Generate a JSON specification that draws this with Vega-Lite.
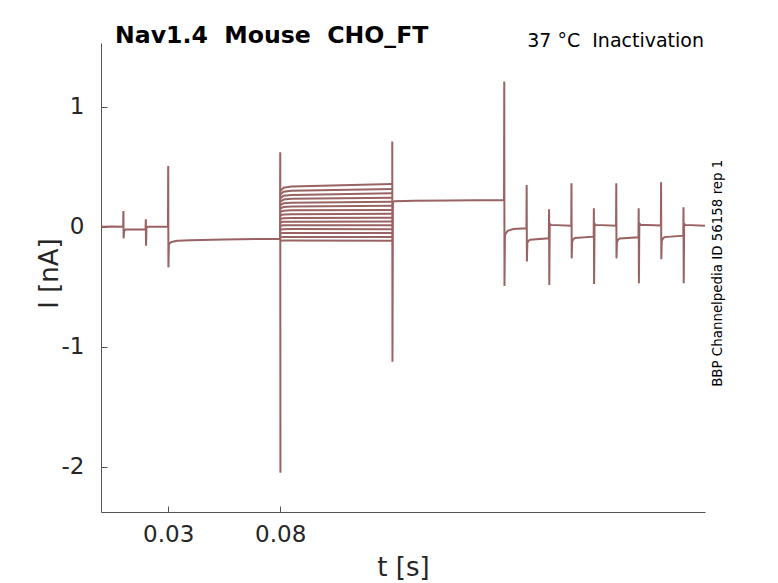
{
  "$schema": "https://vega.github.io/schema/vega-lite/v6.json",
  "width": 604,
  "height": 469,
  "autosize": {"type": "none"},
  "padding": {"left": 101, "top": 43, "right": 73, "bottom": 71},
  "background": "white",
  "config": {
    "font": "DejaVu Sans",
    "view": {"stroke": null},
    "axis": {
      "grid": false,
      "domainColor": "#555555",
      "tickColor": "#555555",
      "labelColor": "#262626",
      "titleColor": "#262626",
      "titleFontWeight": "normal",
      "labelFontSize": 23,
      "titleFontSize": 26,
      "tickSize": -6
    }
  },
  "layer": [
    {
      "data": {
        "values": [
          {"sweep": "a", "t": 0, "I": 0.0},
          {"sweep": "a", "t": 0.005, "I": 0.002},
          {"sweep": "a", "t": 0.0099, "I": 0.0},
          {"sweep": "a", "t": 0.01, "I": 0.131},
          {"sweep": "a", "t": 0.0101, "I": -0.097},
          {"sweep": "a", "t": 0.0103, "I": -0.032},
          {"sweep": "a", "t": 0.011, "I": -0.024},
          {"sweep": "a", "t": 0.0199, "I": -0.022},
          {"sweep": "a", "t": 0.02, "I": 0.061},
          {"sweep": "a", "t": 0.0201, "I": -0.158},
          {"sweep": "a", "t": 0.0203, "I": -0.006},
          {"sweep": "a", "t": 0.021, "I": 0.0},
          {"sweep": "a", "t": 0.0299, "I": 0.001},
          {"sweep": "a", "t": 0.03, "I": 0.506},
          {"sweep": "a", "t": 0.0301, "I": -0.339},
          {"sweep": "a", "t": 0.0303, "I": -0.15},
          {"sweep": "a", "t": 0.0307, "I": -0.137},
          {"sweep": "a", "t": 0.0315, "I": -0.127},
          {"sweep": "a", "t": 0.034, "I": -0.117},
          {"sweep": "a", "t": 0.04, "I": -0.112},
          {"sweep": "a", "t": 0.055, "I": -0.106},
          {"sweep": "a", "t": 0.07, "I": -0.102},
          {"sweep": "a", "t": 0.0799, "I": -0.1},
          {"sweep": "a", "t": 0.08, "I": 0.62},
          {"sweep": "a", "t": 0.0801, "I": -2.05},
          {"sweep": "f01", "t": 0.08015, "I": 0.3},
          {"sweep": "f01", "t": 0.0815, "I": 0.325},
          {"sweep": "f01", "t": 0.085, "I": 0.335},
          {"sweep": "f01", "t": 0.1299, "I": 0.355},
          {"sweep": "f02", "t": 0.08015, "I": 0.27},
          {"sweep": "f02", "t": 0.0815, "I": 0.292},
          {"sweep": "f02", "t": 0.085, "I": 0.3},
          {"sweep": "f02", "t": 0.1299, "I": 0.315},
          {"sweep": "f03", "t": 0.08015, "I": 0.24},
          {"sweep": "f03", "t": 0.0815, "I": 0.258},
          {"sweep": "f03", "t": 0.085, "I": 0.265},
          {"sweep": "f03", "t": 0.1299, "I": 0.278},
          {"sweep": "f04", "t": 0.08015, "I": 0.21},
          {"sweep": "f04", "t": 0.0815, "I": 0.226},
          {"sweep": "f04", "t": 0.085, "I": 0.232},
          {"sweep": "f04", "t": 0.1299, "I": 0.242},
          {"sweep": "f05", "t": 0.08015, "I": 0.182},
          {"sweep": "f05", "t": 0.0815, "I": 0.195},
          {"sweep": "f05", "t": 0.085, "I": 0.2},
          {"sweep": "f05", "t": 0.1299, "I": 0.207},
          {"sweep": "f06", "t": 0.08015, "I": 0.152},
          {"sweep": "f06", "t": 0.0815, "I": 0.164},
          {"sweep": "f06", "t": 0.085, "I": 0.168},
          {"sweep": "f06", "t": 0.1299, "I": 0.174},
          {"sweep": "f07", "t": 0.08015, "I": 0.124},
          {"sweep": "f07", "t": 0.0815, "I": 0.133},
          {"sweep": "f07", "t": 0.085, "I": 0.136},
          {"sweep": "f07", "t": 0.1299, "I": 0.14},
          {"sweep": "f08", "t": 0.08015, "I": 0.095},
          {"sweep": "f08", "t": 0.0815, "I": 0.102},
          {"sweep": "f08", "t": 0.085, "I": 0.104},
          {"sweep": "f08", "t": 0.1299, "I": 0.107},
          {"sweep": "f09", "t": 0.08015, "I": 0.066},
          {"sweep": "f09", "t": 0.0815, "I": 0.071},
          {"sweep": "f09", "t": 0.085, "I": 0.073},
          {"sweep": "f09", "t": 0.1299, "I": 0.075},
          {"sweep": "f10", "t": 0.08015, "I": 0.037},
          {"sweep": "f10", "t": 0.0815, "I": 0.041},
          {"sweep": "f10", "t": 0.085, "I": 0.042},
          {"sweep": "f10", "t": 0.1299, "I": 0.043},
          {"sweep": "f11", "t": 0.08015, "I": 0.008},
          {"sweep": "f11", "t": 0.0815, "I": 0.011},
          {"sweep": "f11", "t": 0.085, "I": 0.012},
          {"sweep": "f11", "t": 0.1299, "I": 0.012},
          {"sweep": "f12", "t": 0.08015, "I": -0.024},
          {"sweep": "f12", "t": 0.0815, "I": -0.021},
          {"sweep": "f12", "t": 0.085, "I": -0.02},
          {"sweep": "f12", "t": 0.1299, "I": -0.021},
          {"sweep": "f13", "t": 0.08015, "I": -0.055},
          {"sweep": "f13", "t": 0.0815, "I": -0.053},
          {"sweep": "f13", "t": 0.085, "I": -0.052},
          {"sweep": "f13", "t": 0.1299, "I": -0.053},
          {"sweep": "f14", "t": 0.08015, "I": -0.088},
          {"sweep": "f14", "t": 0.0815, "I": -0.086},
          {"sweep": "f14", "t": 0.085, "I": -0.085},
          {"sweep": "f14", "t": 0.1299, "I": -0.086},
          {"sweep": "f15", "t": 0.08015, "I": -0.118},
          {"sweep": "f15", "t": 0.0815, "I": -0.116},
          {"sweep": "f15", "t": 0.085, "I": -0.115},
          {"sweep": "f15", "t": 0.1299, "I": -0.117},
          {"sweep": "b", "t": 0.13, "I": 0.71},
          {"sweep": "b", "t": 0.1301, "I": -1.125},
          {"sweep": "b", "t": 0.1303, "I": 0.205},
          {"sweep": "b", "t": 0.131, "I": 0.213},
          {"sweep": "b", "t": 0.14, "I": 0.217},
          {"sweep": "b", "t": 0.155, "I": 0.219},
          {"sweep": "b", "t": 0.1799, "I": 0.222},
          {"sweep": "b", "t": 0.18, "I": 1.21},
          {"sweep": "b", "t": 0.1801, "I": -0.494},
          {"sweep": "b", "t": 0.1803, "I": -0.075},
          {"sweep": "b", "t": 0.1807, "I": -0.055},
          {"sweep": "b", "t": 0.1815, "I": -0.035},
          {"sweep": "b", "t": 0.184, "I": -0.02},
          {"sweep": "b", "t": 0.1899, "I": -0.014},
          {"sweep": "b", "t": 0.19, "I": 0.347},
          {"sweep": "b", "t": 0.1901, "I": -0.29},
          {"sweep": "b", "t": 0.1903, "I": -0.135},
          {"sweep": "b", "t": 0.1908, "I": -0.118},
          {"sweep": "b", "t": 0.1915, "I": -0.108},
          {"sweep": "b", "t": 0.1999, "I": -0.097},
          {"sweep": "b", "t": 0.2, "I": 0.145},
          {"sweep": "b", "t": 0.2001, "I": -0.486},
          {"sweep": "b", "t": 0.2003, "I": 0.025},
          {"sweep": "b", "t": 0.2008, "I": 0.015},
          {"sweep": "b", "t": 0.2099, "I": 0.008},
          {"sweep": "b", "t": 0.21, "I": 0.361},
          {"sweep": "b", "t": 0.2101, "I": -0.264},
          {"sweep": "b", "t": 0.2103, "I": -0.125},
          {"sweep": "b", "t": 0.2108, "I": -0.105},
          {"sweep": "b", "t": 0.2115, "I": -0.094},
          {"sweep": "b", "t": 0.2199, "I": -0.083},
          {"sweep": "b", "t": 0.22, "I": 0.153},
          {"sweep": "b", "t": 0.2201, "I": -0.478},
          {"sweep": "b", "t": 0.2203, "I": 0.025},
          {"sweep": "b", "t": 0.2208, "I": 0.015},
          {"sweep": "b", "t": 0.2299, "I": 0.008},
          {"sweep": "b", "t": 0.23, "I": 0.361},
          {"sweep": "b", "t": 0.2301, "I": -0.264},
          {"sweep": "b", "t": 0.2303, "I": -0.13},
          {"sweep": "b", "t": 0.2308, "I": -0.11},
          {"sweep": "b", "t": 0.2315, "I": -0.098},
          {"sweep": "b", "t": 0.2399, "I": -0.089},
          {"sweep": "b", "t": 0.24, "I": 0.153},
          {"sweep": "b", "t": 0.2401, "I": -0.472},
          {"sweep": "b", "t": 0.2403, "I": 0.027},
          {"sweep": "b", "t": 0.2408, "I": 0.016},
          {"sweep": "b", "t": 0.2499, "I": 0.01},
          {"sweep": "b", "t": 0.25, "I": 0.37},
          {"sweep": "b", "t": 0.2501, "I": -0.272},
          {"sweep": "b", "t": 0.2503, "I": -0.12},
          {"sweep": "b", "t": 0.2508, "I": -0.1},
          {"sweep": "b", "t": 0.2515, "I": -0.087},
          {"sweep": "b", "t": 0.2599, "I": -0.075},
          {"sweep": "b", "t": 0.26, "I": 0.162},
          {"sweep": "b", "t": 0.2601, "I": -0.472},
          {"sweep": "b", "t": 0.2603, "I": 0.025},
          {"sweep": "b", "t": 0.2608, "I": 0.015},
          {"sweep": "b", "t": 0.2696, "I": 0.008}
        ]
      },
      "mark": {"type": "line", "color": "#9a6262", "strokeWidth": 2},
      "encoding": {
        "x": {
          "field": "t",
          "type": "quantitative",
          "scale": {"domain": [0, 0.2696], "nice": false, "zero": false},
          "axis": {
            "title": "t [s]",
            "values": [0.03, 0.08],
            "format": ".2f",
            "labelPadding": 17,
            "titleY": 63,
            "titleBaseline": "alphabetic"
          }
        },
        "y": {
          "field": "I",
          "type": "quantitative",
          "scale": {"domain": [-2.378, 1.531], "nice": false, "zero": false},
          "axis": {
            "title": "I [nA]",
            "values": [-2, -1, 0, 1],
            "labelExpr": "'' + datum.value",
            "labelPadding": 23,
            "titleX": -52,
            "titleY": 230,
            "titleAngle": 270,
            "titleBaseline": "middle"
          }
        },
        "detail": {"field": "sweep"}
      }
    },
    {
      "data": {"values": [{"label": "Nav1.4\u00a0 Mouse\u00a0 CHO_FT"}]},
      "mark": {"type": "text", "align": "left", "baseline": "alphabetic", "fontSize": 23.6, "fontWeight": "bold", "dx": 14, "color": "#000000"},
      "encoding": {
        "x": {"datum": 0},
        "y": {"datum": 1.531},
        "text": {"field": "label"}
      }
    },
    {
      "data": {"values": [{"label": "37 °C\u00a0 Inactivation"}]},
      "mark": {"type": "text", "align": "right", "baseline": "alphabetic", "fontSize": 19, "dx": -1, "dy": 4, "color": "#000000"},
      "encoding": {
        "x": {"datum": 0.2696},
        "y": {"datum": 1.531},
        "text": {"field": "label"}
      }
    },
    {
      "data": {"values": [{"label": "BBP Channelpedia ID 56158 rep 1"}]},
      "mark": {"type": "text", "align": "center", "baseline": "middle", "angle": 270, "fontSize": 13.4, "dy": 13, "color": "#000000"},
      "encoding": {
        "x": {"datum": 0.2696},
        "y": {"datum": -0.388},
        "text": {"field": "label"}
      }
    }
  ]
}
